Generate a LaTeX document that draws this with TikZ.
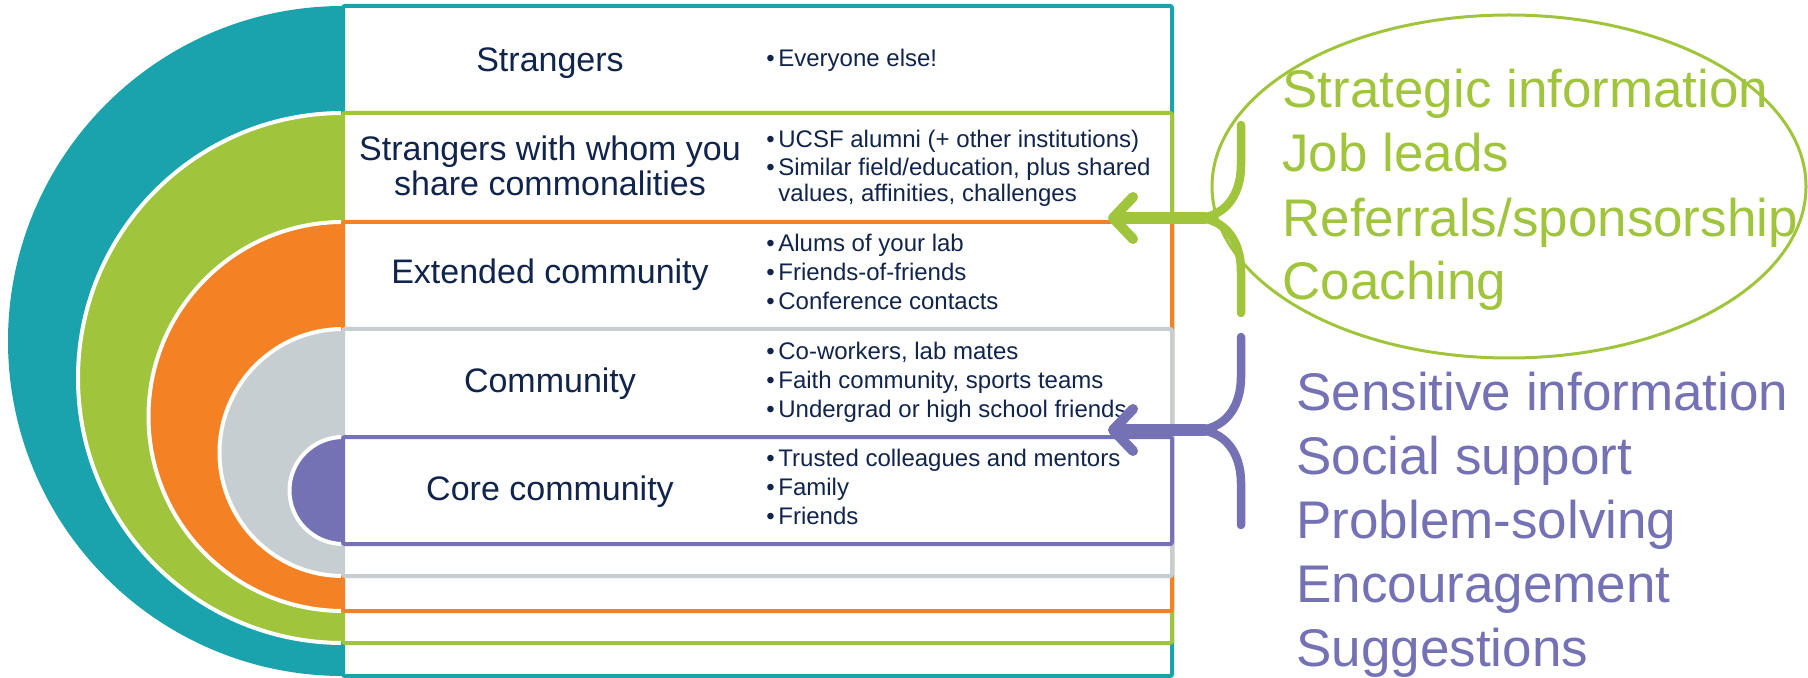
\documentclass[tikz,border=0pt]{standalone}
\usepackage{fontspec}
\setmainfont{Liberation Sans}
\usetikzlibrary{arrows.meta,shapes.geometric}
\definecolor{ringteal}{RGB}{26,163,172}
\definecolor{ringgreen}{RGB}{160,196,60}
\definecolor{ringorange}{RGB}{244,129,36}
\definecolor{ringgray}{RGB}{199,206,209}
\definecolor{ringpurple}{RGB}{116,113,180}
\definecolor{navy}{RGB}{16,36,76}
\newcommand{\bul}{\makebox[6pt][l]{\textbullet}}

\begin{document}
\begin{tikzpicture}[x=0.5pt,y=-0.5pt,
    disc/.style={draw=white,line width=2pt},
    band/.style={fill=white,line width=2pt,rounded corners=1pt},
    lbl/.style={text=navy,font=\fontsize{17}{17.5}\selectfont,align=center,anchor=base},
    items/.style={text=navy,font=\fontsize{12}{14.5}\selectfont,align=left,anchor=base west,inner sep=0pt},
    big/.style={font=\fontsize{26.5}{32}\selectfont,align=left,anchor=base west,inner sep=0pt},
    brace/.style={line width=4.25pt,line cap=round},
    shaft/.style={line width=6pt,-{Straight Barb[length=10pt,width=21pt,line width=5pt,round]}}
  ]
  \useasboundingbox (0,0) rectangle (1808,678);

  % rings, outer to inner
  \fill[ringteal] (343,341) circle[radius=167.5pt];
  \draw[disc,fill=ringgreen] (343,378) circle[radius=132.5pt];
  \draw[disc,fill=ringorange] (343,416.5) circle[radius=97.25pt];
  \draw[disc,fill=ringgray] (343,452.5) circle[radius=61.75pt];
  \draw[disc,fill=ringpurple] (343,490.5) circle[radius=26.75pt];

  % bands
  \draw[band,draw=ringteal] (343,6) rectangle (1172,676);
  \draw[band,draw=ringgreen] (343,113) rectangle (1172,643);
  \draw[band,draw=ringorange] (343,222) rectangle (1172,611);
  \draw[band,draw=ringgray] (343,329) rectangle (1172,576);
  \draw[band,draw=ringpurple] (343,437) rectangle (1172,544);

  % base of a multi-line node = its last line
  \node[lbl] (strangers) at (550,72) {Strangers};
  \node[lbl] (commons) at (550,196) {Strangers with whom you\\share commonalities};
  \node[lbl] (extended) at (550,284) {Extended community};
  \node[lbl] (community) at (550,393) {Community};
  \node[lbl] (core) at (550,500) {Core community};

  \node[items] (everyone) at (766,67) {\bul Everyone else!};
  \node[items] (alumni) at (766,202) {\bul UCSF alumni (+ other institutions)\\[-0.5pt]
    \bul Similar field/education, plus shared\\[-1.5pt]\hspace*{6pt}values, affinities, challenges};
  \node[items] (alums) at (766,310) {\bul Alums of your lab\\\bul Friends-of-friends\\\bul Conference contacts};
  \node[items] (coworkers) at (766,417) {\bul Co-workers, lab mates\\\bul Faith community, sports teams\\\bul Undergrad or high school friends};
  \node[items] (trusted) at (766,524) {\bul Trusted colleagues and mentors\\\bul Family\\\bul Friends};

  % what each group gives
  \node[big,text=ringgreen] (gainlist) at (1282,300) {Strategic information\\Job leads\\Referrals/sponsorship\\Coaching};
  \node[draw=ringgreen,line width=1.5pt,ellipse,minimum width=297pt,minimum height=171.5pt] (gainring) at (1509,186.5) {};
  \node[big,text=ringpurple] (carelist) at (1296,666) {Sensitive information\\Social support\\Problem-solving\\Encouragement\\Suggestions};

  % braces
  \coordinate (gtop) at (1241,125);
  \coordinate (gmid) at (1196,218);
  \coordinate (gbot) at (1241,313);
  \coordinate (gtip) at (1108,218);
  \draw[brace,ringgreen] (gtop) -- (1241,165) .. controls (1241,196) and (1224,218) .. (gmid)
    .. controls (1224,218) and (1241,240) .. (1241,271) -- (gbot);
  \draw[shaft,ringgreen] (1206,218) -- (gtip);

  \coordinate (ptop) at (1241,337);
  \coordinate (pmid) at (1196,430);
  \coordinate (pbot) at (1241,525);
  \coordinate (ptip) at (1108,430);
  \draw[brace,ringpurple] (ptop) -- (1241,377) .. controls (1241,408) and (1224,430) .. (pmid)
    .. controls (1224,430) and (1241,452) .. (1241,483) -- (pbot);
  \draw[shaft,ringpurple] (1206,430) -- (ptip);
\end{tikzpicture}
\end{document}
